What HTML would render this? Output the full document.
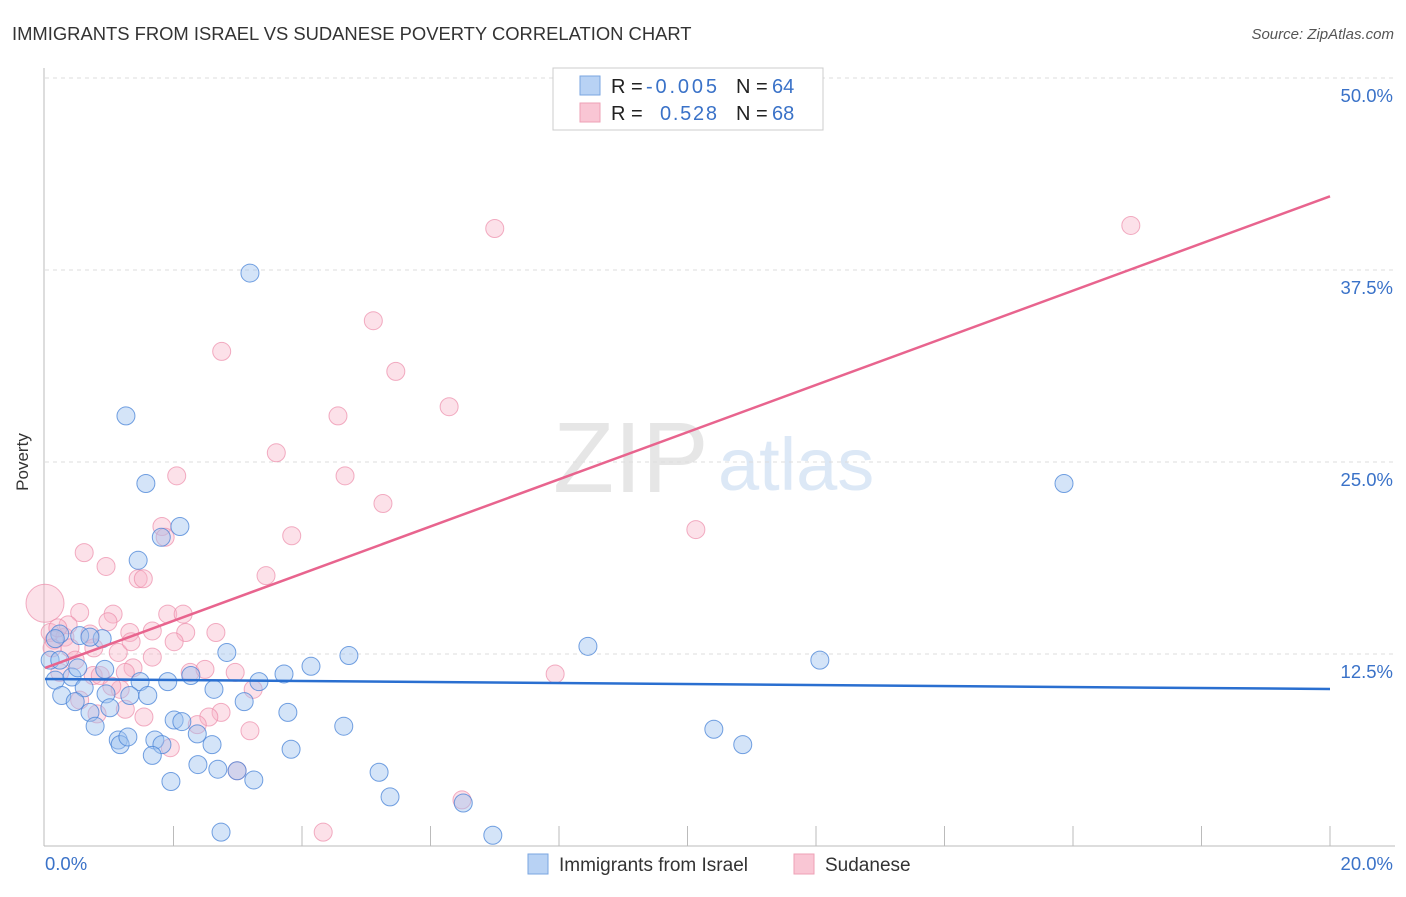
<!DOCTYPE html>
<html><head><meta charset="utf-8"><style>
body{margin:0;background:#fff;font-family:"Liberation Sans",sans-serif;}
svg text{font-family:"Liberation Sans",sans-serif;}
</style></head><body>
<svg id="chart" width="1406" height="892" xmlns="http://www.w3.org/2000/svg">
<text x="12" y="40" font-size="18.4" fill="#333">IMMIGRANTS FROM ISRAEL VS SUDANESE POVERTY CORRELATION CHART</text>
<text x="1394" y="39" font-size="15" fill="#555" font-style="italic" text-anchor="end">Source: ZipAtlas.com</text>
<g>
<text x="553" y="492" font-size="100" fill="#e6e6e6" font-family="Liberation Serif">ZIP</text>
<text x="718" y="490" font-size="74" fill="#dce8f6">atlas</text>
</g>
<g id="grid"></g>
<g id="axes"></g>
<g id="marks"></g>
<g id="lines"></g>
<text x="22" y="456" font-size="17" fill="#333" transform="rotate(-90 28 456)" text-anchor="middle">Poverty</text>
<g>
<rect x="553" y="68" width="270" height="62" fill="#fff" stroke="#ccc"/>
<rect x="580" y="76" width="20" height="19" fill="#b8d2f4" stroke="#7aa6e0"/>
<rect x="580" y="103" width="20" height="19" fill="#f9c6d4" stroke="#eea0b6"/>
<text x="611" y="93" font-size="20" fill="#222">R = <tspan x="646" fill="#3a72c8" textLength="71">-0.005</tspan><tspan x="736">N = </tspan><tspan x="772" fill="#3a72c8">64</tspan></text>
<text x="611" y="120" font-size="20" fill="#222">R = <tspan x="660" fill="#3a72c8" textLength="57">0.528</tspan><tspan x="736">N = </tspan><tspan x="772" fill="#3a72c8">68</tspan></text>
</g>
<g>
<rect x="528" y="854" width="20" height="20" fill="#b8d2f4" stroke="#7aa6e0"/>
<text x="559" y="871" font-size="19" fill="#333">Immigrants from Israel</text>
<rect x="794" y="854" width="20" height="20" fill="#f9c6d4" stroke="#eea0b6"/>
<text x="825" y="871" font-size="19" fill="#333">Sudanese</text>
</g>
</svg>
<script>
const yTicks=[12.5,25,37.5,50];
const yTickLabels=["12.5%","25.0%","37.5%","50.0%"];
const xTickLabels=["0.0%","20.0%"];
const israelX=[3.19,1.26,1.57,2.10,1.81,1.45,15.86,8.45,12.06,4.73,4.14,3.72,3.33,2.83,2.27,1.91,1.48,0.89,0.54,0.23,0.08,0.16,0.42,0.51,0.61,0.93,0.95,1.32,1.60,0.26,0.47,2.63,3.10,0.70,1.01,0.78,2.01,2.13,2.37,3.78,4.65,10.41,10.86,1.14,1.17,1.29,1.71,1.82,1.67,2.60,3.83,2.38,2.69,2.99,3.25,1.96,5.20,5.37,6.51,2.74,6.97,0.70,0.16,0.23];
const israelY=[37.3,28.0,23.6,20.8,20.1,18.6,23.6,13.0,12.1,12.4,11.7,11.2,10.7,12.6,11.1,10.7,10.7,13.5,13.7,13.8,12.1,10.8,11.0,11.6,10.3,11.5,9.9,9.8,9.8,9.8,9.4,10.2,9.4,8.7,9.0,7.8,8.2,8.1,7.3,8.7,7.8,7.6,6.6,6.9,6.6,7.1,6.9,6.6,5.9,6.6,6.3,5.3,5.0,4.9,4.3,4.2,4.8,3.2,2.8,0.9,0.7,13.6,13.5,12.1];
const sudanX=[16.90,7.00,5.11,2.75,5.46,6.29,4.56,3.60,2.05,4.67,5.26,3.84,10.13,1.82,1.87,0.61,0.95,3.44,1.45,1.53,0,0.54,1.06,1.91,2.15,0.98,1.67,1.32,2.19,2.66,0.70,0.08,0.14,0.31,0.39,0.76,1.14,1.34,2.01,1.67,1.37,1.25,2.26,2.49,2.96,7.94,0.75,0.86,0.23,0.11,1.17,3.24,2.74,0.81,1.25,1.54,2.55,2.37,3.19,1.95,2.99,6.49,4.33,0.47,0.36,0.20,1.04,0.54];
const sudanY=[40.4,40.2,34.2,32.2,30.9,28.6,28.0,25.6,24.1,24.1,22.3,20.2,20.6,20.8,20.1,19.1,18.2,17.6,17.4,17.4,15.8,15.2,15.1,15.1,15.1,14.6,14.0,13.9,13.9,13.9,13.8,13.9,13.4,13.6,12.9,12.9,12.6,13.3,13.3,12.3,11.6,11.3,11.3,11.5,11.3,11.2,11.1,11.1,11.3,12.9,10.2,10.2,8.7,8.6,8.9,8.4,8.4,7.9,7.5,6.4,4.9,3.0,0.9,12.1,14.4,14.2,10.4,9.5];
const israelTrend=[10.87,10.22];
const sudanTrend=[11.59,42.3];
const NS='http://www.w3.org/2000/svg';
const X0=45,X1=1330,Y0=846,YS=192/12.5;
function xs(v){return X0+v/20*(X1-X0);}
function ys(v){return Y0-v*YS;}
function mk(tag,attrs,parent){const e=document.createElementNS(NS,tag);for(const k in attrs)e.setAttribute(k,attrs[k]);document.getElementById(parent).appendChild(e);return e;}
yTicks.forEach((t,i)=>{
 const g=mk('line',{x1:45,x2:1395,y1:ys(t),y2:ys(t),stroke:'#ddd','stroke-dasharray':'4,4'},'grid');
 
 
 const l=mk('text',{x:1393,y:ys(t)+24,'font-size':18.5,fill:'#3a72c8','text-anchor':'end'},'axes');
 l.textContent=yTickLabels[i];
 
 
});
const ax=mk('line',{x1:44,x2:44,y1:68,y2:846,stroke:'#bbb'},'axes');


const bx=mk('line',{x1:44,x2:1395,y1:846,y2:846,stroke:'#bbb'},'axes');


for(let k=1;k<=10;k++){
 const t=mk('line',{x1:xs(k*2),x2:xs(k*2),y1:826,y2:846,stroke:'#bbb'},'axes');
 
 
}
const xl0=mk('text',{x:45,y:870,'font-size':18.5,fill:'#3a72c8'},'axes');xl0.textContent=xTickLabels[0];


const xl1=mk('text',{x:1393,y:870,'font-size':18.5,fill:'#3a72c8','text-anchor':'end'},'axes');xl1.textContent=xTickLabels[1];


sudanX.forEach((v,i)=>{
 const c=mk('circle',{cx:xs(v),cy:ys(sudanY[i]),r:(i===20?19:9),fill:'rgba(248,180,200,0.4)',stroke:'rgba(236,140,170,0.7)','stroke-width':1},'marks');
 
 
});
israelX.forEach((v,i)=>{
 const c=mk('circle',{cx:xs(v),cy:ys(israelY[i]),r:9,fill:'rgba(160,196,240,0.45)',stroke:'rgba(70,130,215,0.75)','stroke-width':1},'marks');
 
 
});
const lb=mk('line',{x1:xs(0),y1:ys(israelTrend[0]),x2:xs(20),y2:ys(israelTrend[1]),stroke:'#2a6fd0','stroke-width':2.5},'lines');


const lp=mk('line',{x1:xs(0),y1:ys(sudanTrend[0]),x2:xs(20),y2:ys(sudanTrend[1]),stroke:'#e8648e','stroke-width':2.5},'lines');


</script>
</body></html>
